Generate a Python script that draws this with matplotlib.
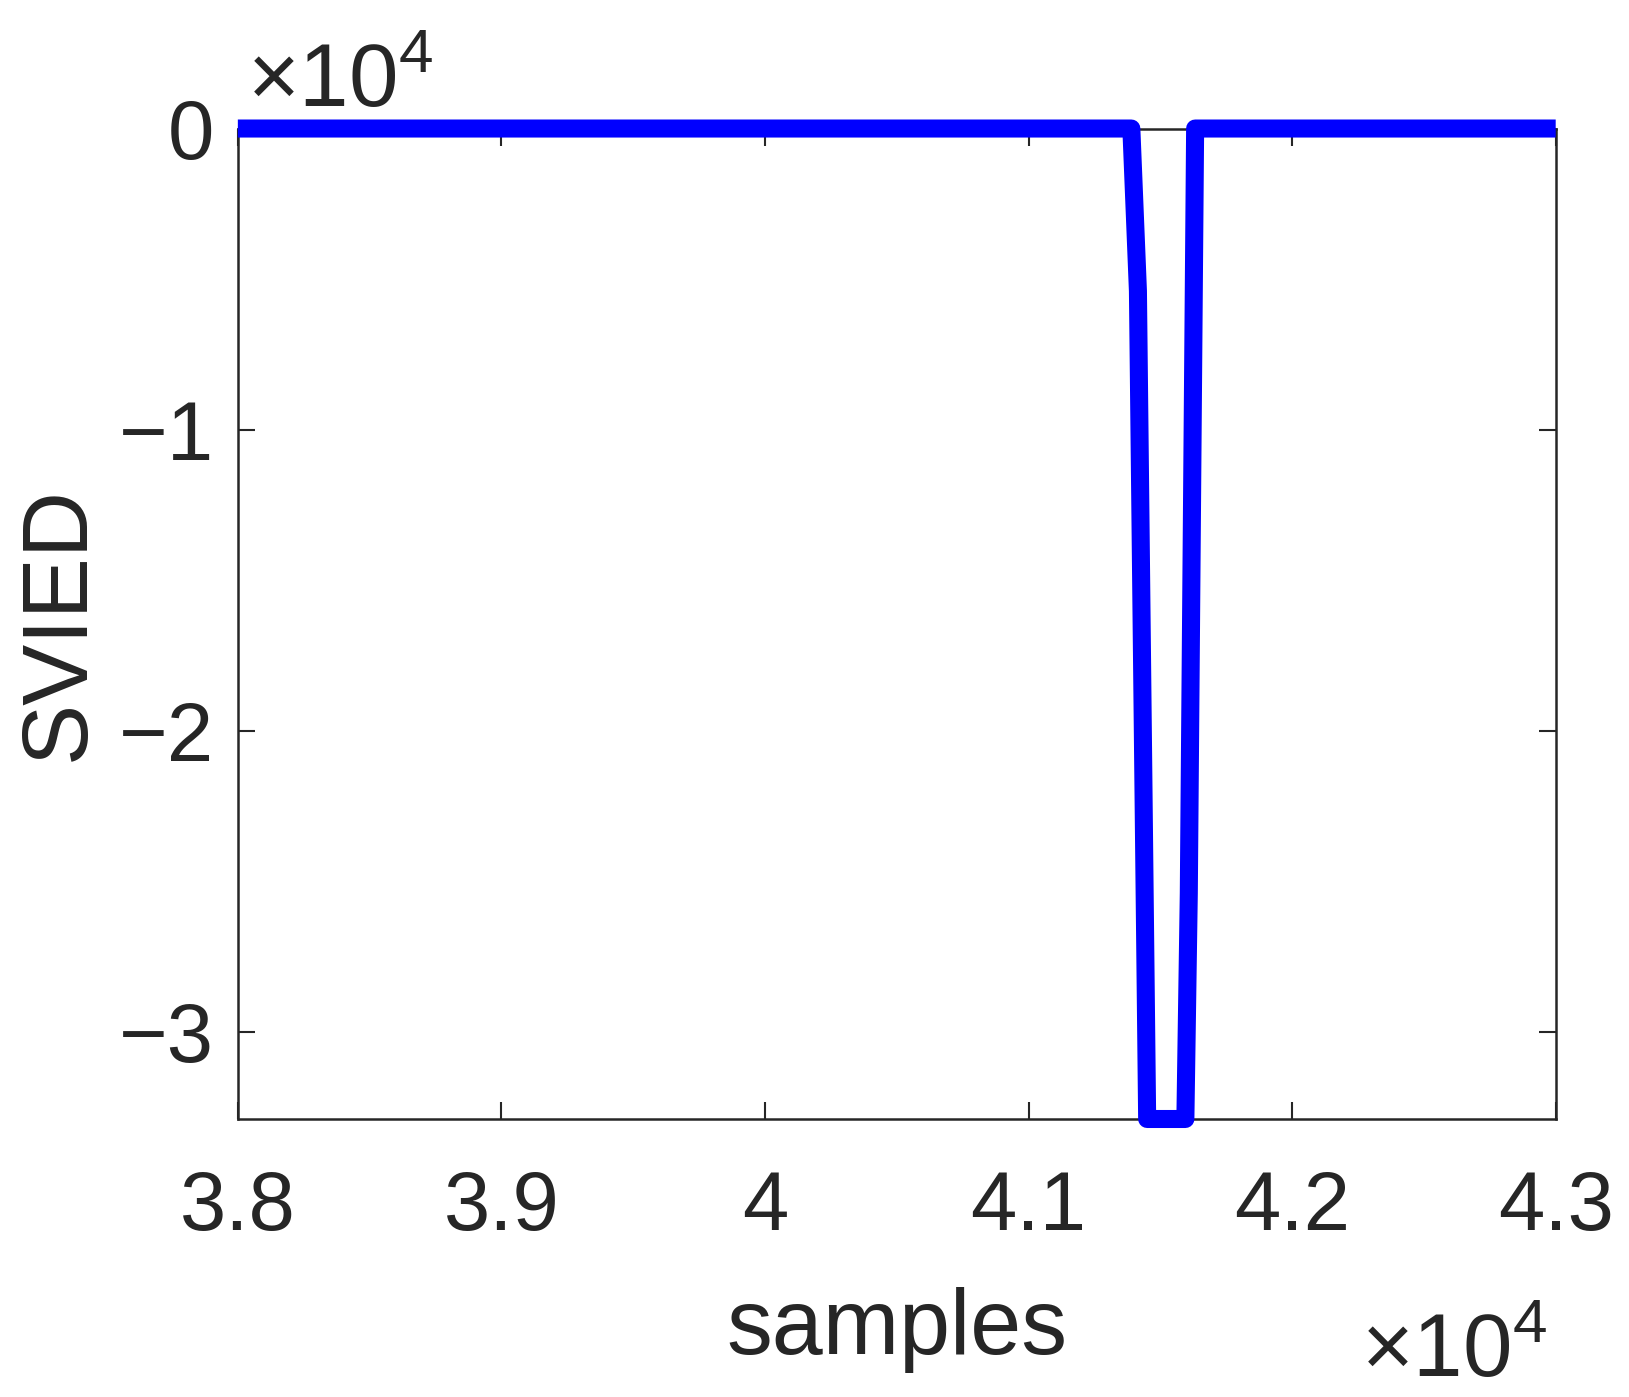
import matplotlib
matplotlib.use('Agg')
import matplotlib.pyplot as plt
from matplotlib.ticker import FuncFormatter
import numpy as np

plt.rcParams['font.family'] = ['Liberation Sans', 'DejaVu Sans']
plt.rcParams['mathtext.fontset'] = 'custom'
plt.rcParams['mathtext.rm'] = 'Liberation Sans'

# SVIED trace (breakpoints)
samples = [38000, 41390, 41415, 41450, 41595, 41608, 41632, 43000]
svied = [0, 0, -5400, -32900, -32900, -25400, 0, 0]

axc = '#262626'
fig = plt.figure(figsize=(16.29, 13.97), dpi=100)
ax = fig.add_axes([0.146, 0.199, 0.809, 0.709])
ax.plot(samples, svied, color='#0000ff', lw=13, solid_joinstyle='round', solid_capstyle='butt', clip_on=False, zorder=3)

ax.set_xlim(38000, 43000)
ax.set_ylim(-32900, 0)
ax.set_xticks(np.arange(38000, 43001, 1000))
ax.set_yticks([-30000, -20000, -10000, 0])
fmt = FuncFormatter(lambda v, p: f"{v/1e4:g}".replace('-', '\u2212'))
ax.xaxis.set_major_formatter(fmt)
ax.yaxis.set_major_formatter(fmt)

ax.tick_params(direction='in', length=12, width=1.5, colors=axc, labelsize=60,
               top=True, right=True)
ax.tick_params(axis='x', pad=36)
ax.tick_params(axis='y', pad=17)
for s in ax.spines.values():
    s.set_color(axc)
    s.set_linewidth(1.8)

ax.set_xlabel('samples', fontsize=66, color=axc, va='center')
ax.xaxis.set_label_coords(0.5, -0.213)
ax.set_ylabel('SVIED', fontsize=66, color=axc, va='center')
ax.yaxis.set_label_coords(-0.135, 0.5)

fig.text(247/1629, 1 - 107/1397, r'$\times10^{4}$', fontsize=64, color=axc, ha='left', va='baseline')
fig.text(1361/1629, 1 - 1377/1397, r'$\times10^{4}$', fontsize=64, color=axc, ha='left', va='baseline')

fig.savefig('out.png', dpi=100)
